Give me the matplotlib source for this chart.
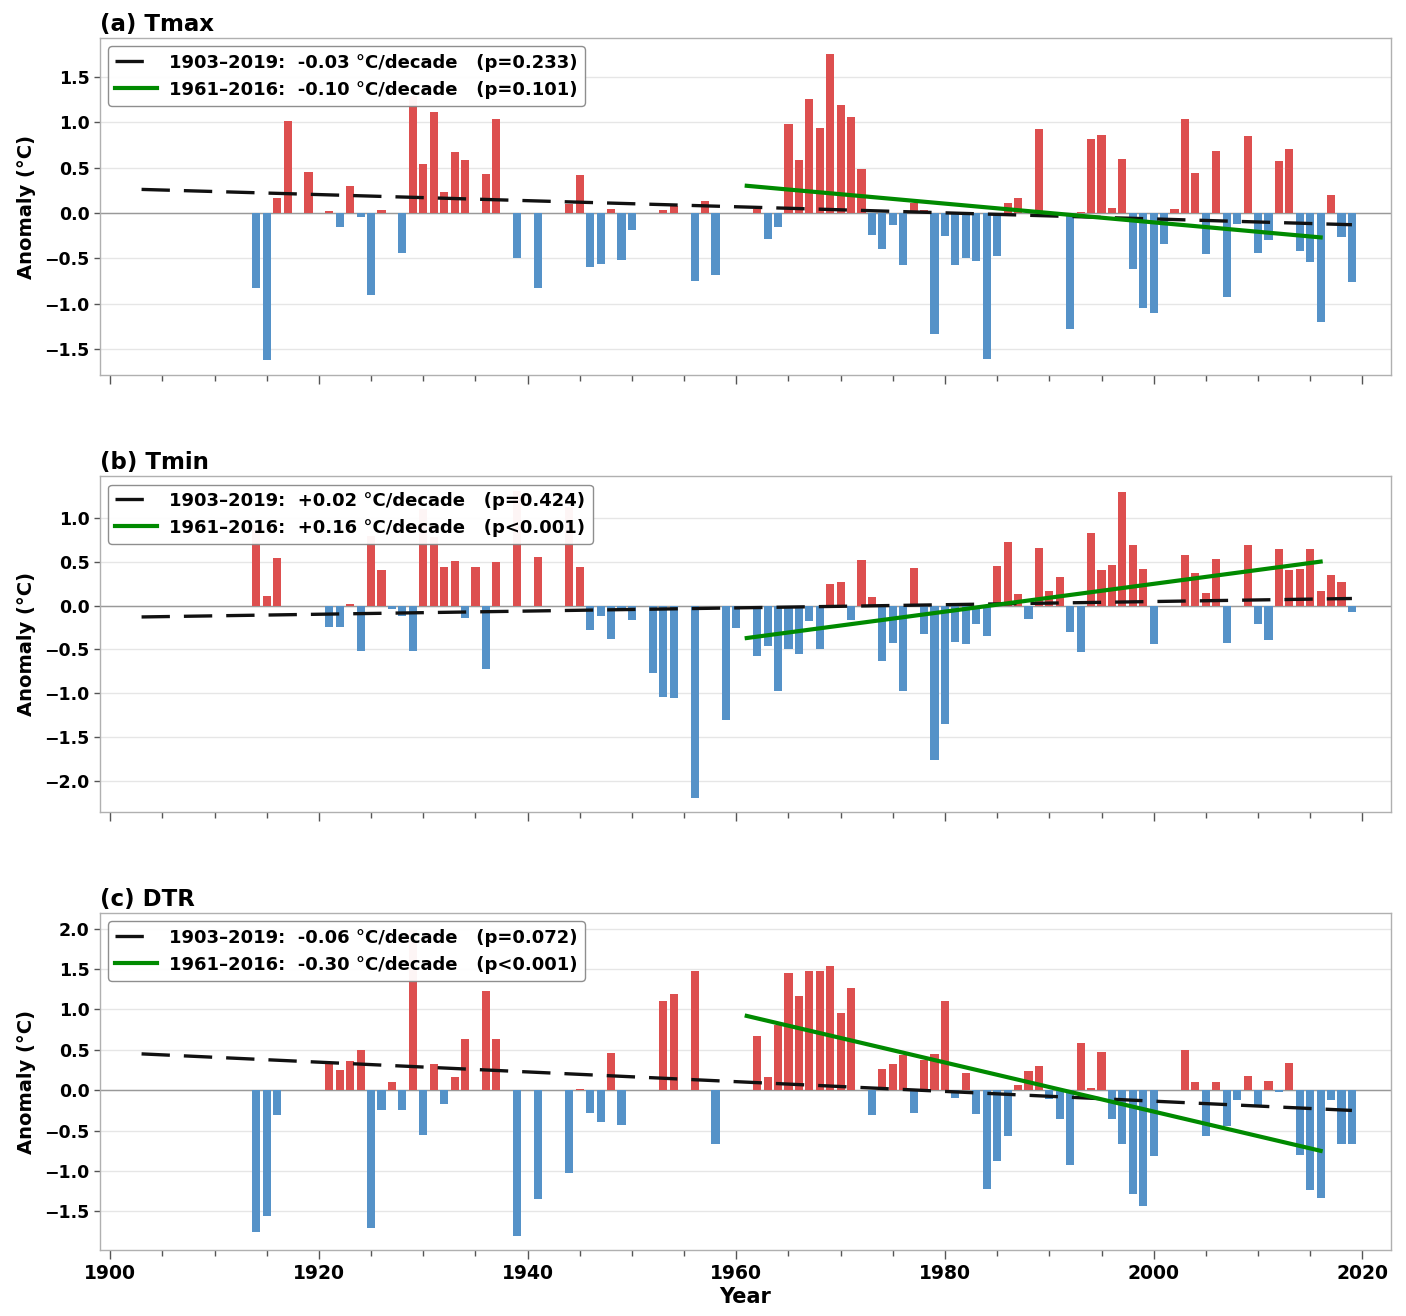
import numpy as np
import matplotlib
matplotlib.use('Agg')
import matplotlib.pyplot as plt
from matplotlib.ticker import MultipleLocator

nan = np.nan

# years with data bars
years = np.arange(1914, 2020)

# Tmax anomaly (°C), 1914-2019
tmax = [
    -0.83, -1.62, 0.17, 1.02, nan, 0.45, nan, 0.02, -0.15, 0.30,     # 1914-1923
    -0.04, -0.91, 0.03, nan, -0.44, 1.29, 0.54, 1.11, 0.23, 0.67,    # 1924-1933
    0.58, nan, 0.43, 1.04, nan, -0.50, nan, -0.83, nan, nan,         # 1934-1943
    0.10, 0.42, -0.60, -0.56, 0.04, -0.52, -0.19, nan, nan, 0.03,    # 1944-1953
    0.08, nan, -0.75, 0.13, -0.69, nan, nan, nan, 0.04, -0.29,       # 1954-1963
    -0.15, 0.98, 0.58, 1.26, 0.94, 1.76, 1.19, 1.06, 0.49, -0.24,    # 1964-1973
    -0.40, -0.13, -0.57, 0.11, 0.03, -1.34, -0.26, -0.57, -0.50, -0.53,  # 1974-1983
    -1.61, -0.47, 0.11, 0.17, nan, 0.93, nan, -0.02, -1.28, 0.01,    # 1984-1993
    0.82, 0.86, 0.06, 0.60, -0.62, -1.05, -1.10, -0.34, 0.04, 1.04,  # 1994-2003
    0.44, -0.45, 0.68, -0.93, -0.12, 0.85, -0.44, -0.30, 0.57, 0.71, # 2004-2013
    -0.42, -0.54, -1.20, 0.20, -0.27, -0.76,                         # 2014-2019
]

# Tmin anomaly (°C), 1914-2019
tmin = [
    0.92, 0.11, 0.54, nan, nan, nan, nan, -0.25, -0.25, 0.02,
    -0.52, 0.79, 0.41, -0.04, -0.12, -0.52, 1.10, 0.78, 0.44, 0.51,
    -0.14, 0.44, -0.72, 0.49, nan, 1.30, nan, 0.55, nan, nan,
    1.12, 0.44, -0.28, -0.12, -0.38, -0.04, -0.16, nan, -0.77, -1.04,
    -1.05, nan, -2.19, nan, nan, -1.30, -0.26, nan, -0.58, -0.46,
    -0.97, -0.50, -0.55, -0.18, -0.49, 0.24, 0.27, -0.17, 0.52, 0.10,
    -0.63, -0.43, -0.97, 0.43, -0.32, -1.76, -1.35, -0.42, -0.44, -0.21,
    -0.35, 0.45, 0.72, 0.13, -0.15, 0.66, 0.16, 0.33, -0.30, -0.53,
    0.83, 0.40, 0.46, 1.29, 0.69, 0.42, -0.44, nan, nan, 0.57,
    0.37, 0.14, 0.53, -0.43, nan, 0.69, -0.21, -0.39, 0.64, 0.41,
    0.42, 0.64, 0.17, 0.35, 0.27, -0.07,
]

# DTR anomaly (°C), 1914-2019
dtr = [
    -1.75, -1.56, -0.31, nan, nan, nan, nan, 0.33, 0.25, 0.36,
    0.50, -1.70, -0.25, 0.10, -0.24, 1.98, -0.56, 0.33, -0.17, 0.17,
    0.64, nan, 1.23, 0.63, nan, -1.80, nan, -1.35, nan, nan,
    -1.02, 0.02, -0.28, -0.39, 0.46, -0.43, nan, nan, nan, 1.11,
    1.19, nan, 1.47, nan, -0.66, nan, nan, nan, 0.67, 0.17,
    0.81, 1.45, 1.17, 1.48, 1.47, 1.54, 0.96, 1.27, nan, -0.31,
    0.26, 0.33, 0.43, -0.28, 0.38, 0.45, 1.11, -0.10, 0.21, -0.30,
    -1.22, -0.88, -0.57, 0.07, 0.24, 0.30, -0.11, -0.36, -0.93, 0.59,
    0.03, 0.47, -0.36, -0.66, -1.28, -1.43, -0.81, nan, nan, 0.50,
    0.10, -0.57, 0.10, -0.44, -0.12, 0.18, -0.20, 0.12, -0.02, 0.34,
    -0.80, -1.24, -1.33, -0.12, -0.66, -0.66,
]

# trend periods and fitted end values (start, end)
long_period = [1903, 2019]
short_period = [1961, 2016]
long_trend = {'a': [0.26, -0.13], 'b': [-0.13, 0.08], 'c': [0.45, -0.25]}
short_trend = {'a': [0.30, -0.27], 'b': [-0.37, 0.50], 'c': [0.92, -0.75]}

titles = ['(a) Tmax', '(b) Tmin', '(c) DTR']
long_labels = ['1903\u20132019:  -0.03 \u00b0C/decade   (p=0.233)',
               '1903\u20132019:  +0.02 \u00b0C/decade   (p=0.424)',
               '1903\u20132019:  -0.06 \u00b0C/decade   (p=0.072)']
short_labels = ['1961\u20132016:  -0.10 \u00b0C/decade   (p=0.101)',
                '1961\u20132016:  +0.16 \u00b0C/decade   (p<0.001)',
                '1961\u20132016:  -0.30 \u00b0C/decade   (p<0.001)']
ylims = [(-1.79, 1.93), (-2.35, 1.47), (-1.98, 2.19)]
yticks = [np.arange(-1.5, 1.51, 0.5), np.arange(-2.0, 1.01, 0.5), np.arange(-1.5, 2.01, 0.5)]

plt.rcParams['font.family'] = 'DejaVu Sans'
plt.rcParams['font.weight'] = 'bold'

red = '#dd4f4f'
blue = '#5592c8'

fig = plt.figure(figsize=(14.06, 13.16), dpi=100)
boxes = [[0.071, 0.715, 0.918, 0.256],
         [0.071, 0.383, 0.918, 0.255],
         [0.071, 0.050, 0.918, 0.256]]

series = [tmax, tmin, dtr]
keys = ['a', 'b', 'c']

for i in range(3):
    ax = fig.add_axes(boxes[i])
    vals = np.array(series[i], dtype=float)
    ok = ~np.isnan(vals)
    yrs = years[ok]
    v = vals[ok]
    colors = [red if x >= 0 else blue for x in v]
    ax.bar(yrs, v, width=0.78, color=colors, zorder=2)
    ax.axhline(0, color='#999999', lw=1.0, zorder=1.5)

    k = keys[i]
    ax.plot(long_period, long_trend[k], color='#111111', lw=2.4,
            dashes=(8.5, 4.2), zorder=4, label=long_labels[i])
    ax.plot(short_period, short_trend[k], color='#008a00', lw=3.0,
            zorder=5, label=short_labels[i])

    ax.set_xlim(1899.0, 2022.7)
    ax.set_ylim(*ylims[i])
    ax.set_yticks(yticks[i])
    ax.xaxis.set_major_locator(MultipleLocator(20))
    ax.xaxis.set_minor_locator(MultipleLocator(5))
    ax.grid(axis='y', color='#e6e6e6', lw=1.0, zorder=0)
    ax.set_axisbelow(True)
    for s in ax.spines.values():
        s.set_color('#b0b0b0')
        s.set_linewidth(1.0)
    ax.tick_params(axis='y', which='major', labelsize=12.5, length=4,
                   width=1.0, color='#555555')
    ax.tick_params(axis='x', which='major', labelsize=13.5, length=6.5,
                   width=1.0, color='#555555')
    ax.tick_params(axis='x', which='minor', length=4.3, width=1.0, color='#555555')
    for lab in ax.get_yticklabels() + ax.get_xticklabels():
        lab.set_fontweight('bold')
    if i < 2:
        ax.tick_params(axis='x', labelbottom=False)
    else:
        ax.set_xlabel('Year', fontsize=15, fontweight='bold', labelpad=3)
    ax.set_ylabel('Anomaly (\u00b0C)', fontsize=14, fontweight='bold', labelpad=6)
    ax.set_title(titles[i], loc='left', fontsize=16.5, fontweight='bold', pad=5)

    leg = ax.legend(loc='upper left', handlelength=2.3, handletextpad=0.7,
                    framealpha=0.95, edgecolor='#888888', borderaxespad=0.45,
                    prop={'weight': 'bold', 'size': 13})
    leg.set_zorder(10)

fig.savefig('out.png', dpi=100)
